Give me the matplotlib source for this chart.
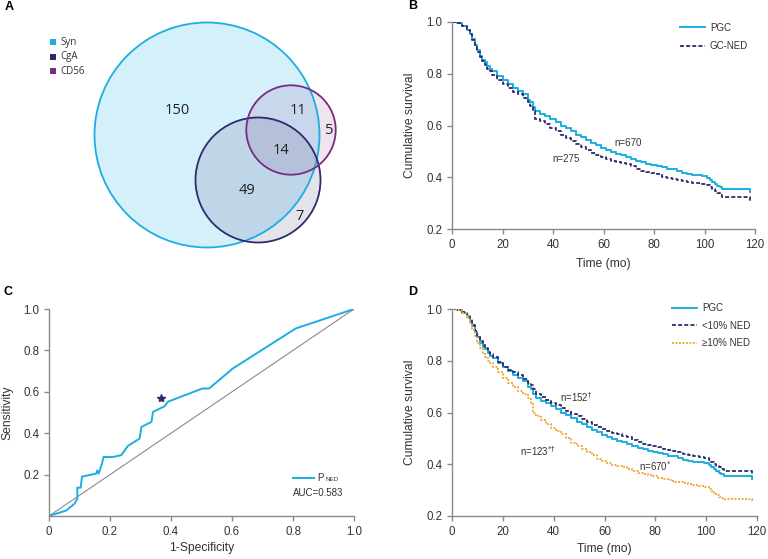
import matplotlib
matplotlib.use("Agg")
import matplotlib.pyplot as plt
from matplotlib.patches import Circle, Rectangle

plt.rcParams['font.family'] = ['Liberation Sans', 'DejaVu Sans']

# ---------------- data ----------------
venn_labels = ["Syn", "CgA", "CD56"]
venn_counts = [150, 11, 5, 14, 49, 7]  # Syn only, Syn&CD56, CD56 only, all, Syn&CgA, CgA only

t_pgc = [0, 2, 4, 6, 7, 8, 9, 10, 11, 12, 13, 14, 15, 16, 18, 20, 22, 24, 26, 28, 30, 31, 32, 33, 35, 37, 39, 41, 43, 45, 47, 49, 51, 53, 55, 57, 59, 61, 63, 65, 67, 69, 71, 73, 75, 77, 79, 81, 83, 85, 87, 89, 91, 93, 95, 97, 99, 101, 102, 103, 104, 105, 106, 107, 118, 118]
s_pgc = [1.0, 0.995, 0.985, 0.97, 0.955, 0.935, 0.91, 0.89, 0.87, 0.855, 0.845, 0.83, 0.82, 0.81, 0.79, 0.775, 0.76, 0.745, 0.735, 0.72, 0.70, 0.69, 0.67, 0.655, 0.645, 0.635, 0.625, 0.612, 0.60, 0.59, 0.578, 0.565, 0.555, 0.543, 0.533, 0.523, 0.512, 0.505, 0.498, 0.49, 0.485, 0.48, 0.47, 0.462, 0.458, 0.452, 0.448, 0.445, 0.44, 0.433, 0.43, 0.425, 0.418, 0.414, 0.41, 0.407, 0.405, 0.398, 0.39, 0.383, 0.375, 0.368, 0.362, 0.355, 0.355, 0.343]

t_ned = [0, 2, 4, 6, 7, 8, 9, 10, 11, 12, 13, 14, 15, 16, 18, 20, 22, 24, 26, 28, 30, 31, 32, 33, 35, 37, 39, 41, 43, 45, 47, 49, 51, 53, 55, 57, 59, 61, 63, 65, 67, 69, 71, 73, 75, 77, 79, 81, 83, 85, 87, 89, 91, 93, 95, 97, 99, 101, 102, 103, 104, 105, 106, 107, 118, 118]
s_ned = [1.0, 0.995, 0.985, 0.97, 0.955, 0.93, 0.905, 0.885, 0.865, 0.85, 0.835, 0.82, 0.81, 0.795, 0.775, 0.76, 0.745, 0.73, 0.72, 0.705, 0.69, 0.675, 0.655, 0.625, 0.618, 0.605, 0.59, 0.58, 0.565, 0.552, 0.54, 0.528, 0.518, 0.505, 0.495, 0.485, 0.478, 0.47, 0.462, 0.458, 0.456, 0.452, 0.445, 0.43, 0.425, 0.422, 0.418, 0.412, 0.402, 0.396, 0.394, 0.39, 0.386, 0.382, 0.378, 0.376, 0.374, 0.37, 0.362, 0.355, 0.345, 0.338, 0.332, 0.325, 0.325, 0.31]

t_lo = t_pgc
s_lo = [1.0, 0.995, 0.99, 0.975, 0.96, 0.94, 0.915, 0.895, 0.875, 0.86, 0.85, 0.835, 0.825, 0.815, 0.795, 0.775, 0.765, 0.755, 0.745, 0.73, 0.715, 0.705, 0.69, 0.67, 0.66, 0.648, 0.637, 0.628, 0.618, 0.605, 0.595, 0.585, 0.573, 0.563, 0.553, 0.543, 0.535, 0.527, 0.52, 0.515, 0.51, 0.505, 0.495, 0.487, 0.48, 0.475, 0.47, 0.466, 0.46, 0.455, 0.452, 0.446, 0.44, 0.435, 0.43, 0.428, 0.425, 0.418, 0.41, 0.402, 0.395, 0.388, 0.38, 0.375, 0.375, 0.36]

t_hi = t_pgc
s_hi = [1.0, 0.995, 0.985, 0.965, 0.945, 0.92, 0.895, 0.87, 0.85, 0.83, 0.815, 0.80, 0.79, 0.775, 0.755, 0.735, 0.715, 0.70, 0.685, 0.67, 0.655, 0.635, 0.60, 0.585, 0.57, 0.555, 0.54, 0.527, 0.515, 0.50, 0.482, 0.47, 0.46, 0.448, 0.435, 0.422, 0.412, 0.405, 0.398, 0.393, 0.388, 0.383, 0.375, 0.368, 0.362, 0.358, 0.353, 0.348, 0.342, 0.338, 0.333, 0.33, 0.327, 0.324, 0.32, 0.316, 0.313, 0.305, 0.298, 0.29, 0.282, 0.275, 0.268, 0.265, 0.265, 0.255]

roc_fpr = [0, 0.057, 0.084, 0.093, 0.093, 0.104, 0.108, 0.155, 0.158, 0.163, 0.175, 0.179, 0.21, 0.237, 0.259, 0.297, 0.303, 0.336, 0.341, 0.379, 0.39, 0.503, 0.525, 0.603, 0.809, 1.0]
roc_tpr = [0, 0.027, 0.06, 0.084, 0.137, 0.137, 0.19, 0.205, 0.22, 0.205, 0.26, 0.285, 0.285, 0.294, 0.339, 0.374, 0.43, 0.455, 0.503, 0.53, 0.552, 0.616, 0.616, 0.713, 0.906, 1.0]
cut_point = (0.368, 0.571)
auc_text = "AUC=0.583"

c_cyan = "#1aaee2"
c_navy = "#2d2a6e"
c_purple = "#7a2a80"
c_orange = "#f4a93a"
tick_col = "#333333"
spine_col = "#8a8a8a"

W, H = 768, 559
fig = plt.figure(figsize=(W / 100, H / 100), dpi=100)

def fx(px):
    return px / W

def fy(py):
    return 1 - py / H

def style_axes(ax):
    for s in ["top", "right"]:
        ax.spines[s].set_visible(False)
    for s in ["left", "bottom"]:
        ax.spines[s].set_color(spine_col)
        ax.spines[s].set_linewidth(1.0)
    ax.tick_params(colors=spine_col, labelcolor=tick_col, labelsize=8.3, length=3.5, width=1.0)

# ---------------- Panel A: Venn ----------------
axA = fig.add_axes([0, 1 - 280 / H, 380 / W, 280 / H])
axA.set_xlim(0, 380)
axA.set_ylim(280, 0)
axA.axis("off")
circ_layout = [((207, 135), 112.5, "#d4f0fb", 1.0, c_cyan),
               ((258, 180), 62.5, c_navy, 0.13, c_navy),
               ((291, 130), 44.7, c_purple, 0.12, c_purple)]
for (cxy, r, fc, al, ec) in circ_layout:
    axA.add_patch(Circle(cxy, r, facecolor=fc, alpha=al, edgecolor="none"))
for (cxy, r, fc, al, ec) in circ_layout:
    axA.add_patch(Circle(cxy, r, facecolor="none", edgecolor=ec, lw=1.3))
num_pos = [(177, 111), (298, 111), (329, 131), (281, 150), (247, 191), (300, 217)]
for n, (x, y) in zip(venn_counts, num_pos):
    axA.text(x, y, str(n), ha="center", va="center", fontsize=10.5, color="#222222",
             family=["Open Sans", "DejaVu Sans"])
leg_cols = [c_cyan, c_navy, c_purple]
for i, (lab, col) in enumerate(zip(venn_labels, leg_cols)):
    y = 42 + i * 14.5
    axA.add_patch(Rectangle((50, y - 3), 6, 6, facecolor=col, edgecolor="none"))
    axA.text(60, y, lab, ha="left", va="center", fontsize=7, color="#333333",
             family=["Open Sans", "DejaVu Sans"])
fig.text(fx(5), fy(7), "A", fontsize=9, fontweight="bold", ha="left", va="center")

# ---------------- Panel B ----------------
axB = fig.add_axes([fx(452), fy(229), fx(755) - fx(452), fy(22) - fy(229)])
style_axes(axB)
axB.plot(t_pgc, s_pgc, drawstyle="steps-post", color=c_cyan, lw=1.4, label="PGC")
axB.plot(t_ned, s_ned, drawstyle="steps-post", color=c_navy, lw=1.3, ls=(0, (2.2, 1.2)), label="GC-NED")
axB.set_xlim(0, 120)
axB.set_ylim(0.2, 1.0)
axB.set_xticks([0, 20, 40, 60, 80, 100, 120])
axB.set_yticks([0.2, 0.4, 0.6, 0.8, 1.0])
axB.set_yticklabels(["0.2", "0.4", "0.6", "0.8", "1.0"])
axB.set_xlabel("Time (mo)", fontsize=8.7, color=tick_col, labelpad=5)
axB.set_ylabel("Cumulative survival", fontsize=8.7, color=tick_col, labelpad=7)
axB.text(69.7, 0.532, "n=670", fontsize=7, color="#333333", ha="center", va="center")
axB.text(45.1, 0.47, "n=275", fontsize=7, color="#333333", ha="center", va="center")
legB = axB.legend(loc="upper right", bbox_to_anchor=(1.0, 1.03), frameon=False, fontsize=7,
                  handlelength=2.6, handletextpad=0.5, labelspacing=0.9, borderaxespad=0.3)
for t in legB.get_texts():
    t.set_color("#333333")
fig.text(fx(408), fy(6), "B", fontsize=9, fontweight="bold", ha="left", va="center")

# ---------------- Panel C ----------------
axC = fig.add_axes([fx(49), fy(516), fx(354) - fx(49), fy(309) - fy(516)])
style_axes(axC)
axC.plot([0, 1], [0, 1], color="#8a8a8a", lw=0.8)
axC.plot(roc_fpr, roc_tpr, color=c_cyan, lw=1.4)
axC.plot([cut_point[0]], [cut_point[1]], marker="*", color=c_navy, markersize=6, ls="none")
axC.set_xlim(0, 1)
axC.set_ylim(0, 1)
axC.set_xticks([0, 0.2, 0.4, 0.6, 0.8, 1.0])
axC.set_xticklabels(["0", "0.2", "0.4", "0.6", "0.8", "1.0"])
axC.set_yticks([0.2, 0.4, 0.6, 0.8, 1.0])
axC.set_yticklabels(["0.2", "0.4", "0.6", "0.8", "1.0"])
axC.set_xlabel("1-Specificity", fontsize=8.7, color=tick_col, labelpad=3)
axC.set_ylabel("Sensitivity", fontsize=8.7, color=tick_col, labelpad=7)
axC.plot([0.8, 0.87], [0.185, 0.185], color=c_cyan, lw=1.4)
axC.text(0.88, 0.185, "P", fontsize=7, color="#333333", ha="left", va="center")
axC.text(0.905, 0.178, "NED", fontsize=4.5, color="#333333", ha="left", va="center")
axC.text(0.8, 0.11, auc_text, fontsize=7, color="#333333", ha="left", va="center")
fig.text(fx(4), fy(292), "C", fontsize=9, fontweight="bold", ha="left", va="center")

# ---------------- Panel D ----------------
axD = fig.add_axes([fx(452), fy(516), fx(757) - fx(452), fy(309) - fy(516)])
style_axes(axD)
axD.plot(t_pgc, s_pgc, drawstyle="steps-post", color=c_cyan, lw=1.4, label="PGC")
axD.plot(t_lo, s_lo, drawstyle="steps-post", color=c_navy, lw=1.3, ls=(0, (2.2, 1.2)), label="<10% NED")
axD.plot(t_hi, s_hi, drawstyle="steps-post", color=c_orange, lw=1.4, ls=(0, (1, 0.8)), label="\u226510% NED")
axD.set_xlim(0, 120)
axD.set_ylim(0.2, 1.0)
axD.set_xticks([0, 20, 40, 60, 80, 100, 120])
axD.set_yticks([0.2, 0.4, 0.6, 0.8, 1.0])
axD.set_yticklabels(["0.2", "0.4", "0.6", "0.8", "1.0"])
axD.set_xlabel("Time (mo)", fontsize=8.7, color=tick_col, labelpad=4)
axD.set_ylabel("Cumulative survival", fontsize=8.7, color=tick_col, labelpad=7)
axD.text(49, 0.66, "n=152$^{\u2020}$", fontsize=7, color="#333333", ha="center", va="center")
axD.text(34, 0.451, "n=123$^{*\u2020}$", fontsize=7, color="#333333", ha="center", va="center")
axD.text(80, 0.393, "n=670$^{*}$", fontsize=7, color="#333333", ha="center", va="center")
legD = axD.legend(loc="upper right", bbox_to_anchor=(1.0, 1.06), frameon=False, fontsize=7,
                  handlelength=2.6, handletextpad=0.5, labelspacing=0.75, borderaxespad=0.3)
for t in legD.get_texts():
    t.set_color("#333333")
fig.text(fx(408), fy(292), "D", fontsize=9, fontweight="bold", ha="left", va="center")

fig.savefig("out.png", dpi=100, facecolor="white")
